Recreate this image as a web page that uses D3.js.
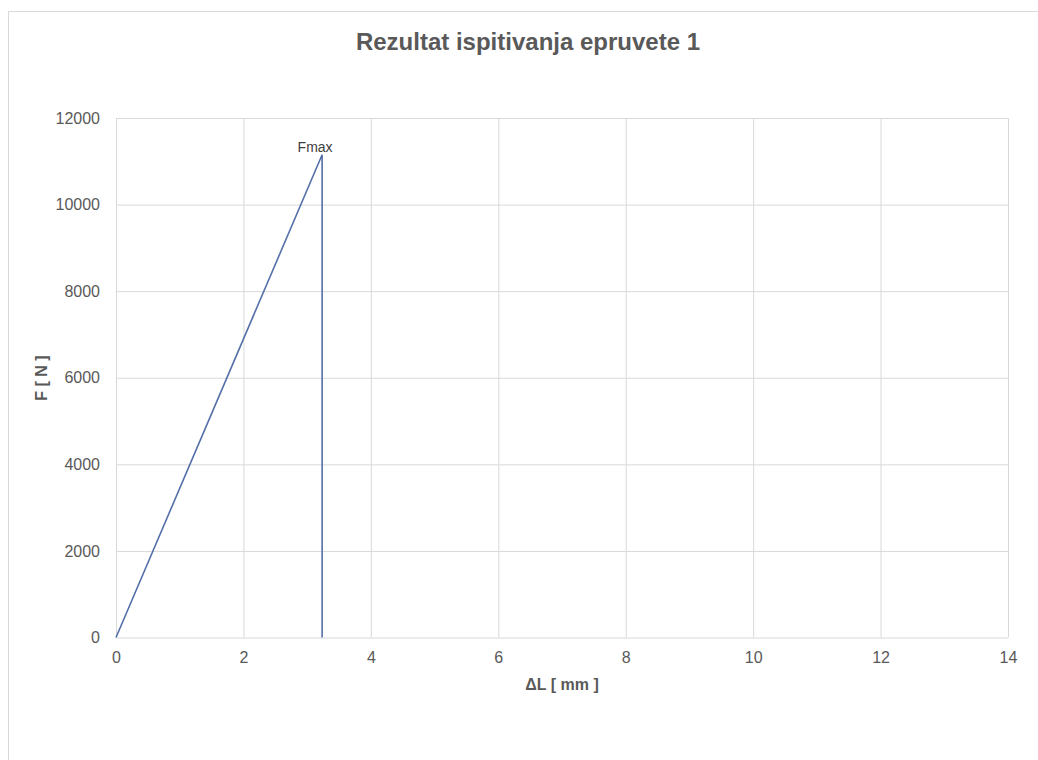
<!DOCTYPE html>
<html><head><meta charset="utf-8">
<script src="https://cdn.jsdelivr.net/npm/d3@7/dist/d3.min.js"></script>
<style>body{margin:0;background:#fff}svg{display:block}</style>
</head><body>
<svg id="c" width="1038" height="760"></svg>
<script>
const chartTitle = "Rezultat ispitivanja epruvete 1";
const xTitle = "ΔL [ mm ]";
const yTitle = "F [ N ]";
const deltaL = [0, 3.235, 3.235];
const force  = [0, 11150, 0];
const xTicks = [0, 2, 4, 6, 8, 10, 12, 14];
const yTicks = [0, 2000, 4000, 6000, 8000, 10000, 12000];
const peakLabel = "Fmax";
const peakIndex = 1;

const svg = d3.select("#c");
const font = "'Liberation Sans', Arial, sans-serif";
const m = {l:116, r:1008, t:118, b:637.5};
const x = d3.scaleLinear().domain([0,14]).range([m.l, m.r]);
const y = d3.scaleLinear().domain([0,12000]).range([m.b, m.t]);

svg.append("rect").attr("x",8.5).attr("y",11.5).attr("width",1040).attr("height",800)
  .attr("fill","#fff").attr("stroke","#d9d9d9");

svg.append("text").attr("x",528).attr("y",50).attr("text-anchor","middle")
  .attr("font-family",font).attr("font-weight","bold").attr("font-size",24)
  .attr("fill","#595959").text(chartTitle);

const gx = svg.append("g").attr("transform",`translate(0,${m.b})`)
  .call(d3.axisBottom(x).tickValues(xTicks).tickSize(-(m.b-m.t)).tickPadding(14).tickFormat(d3.format("d")));
gx.select(".domain").remove();
gx.selectAll(".tick line").attr("stroke","#d9d9d9");
gx.selectAll(".tick text").attr("font-family",font).attr("font-size",16).attr("fill","#595959");

const gy = svg.append("g").attr("transform",`translate(${m.l},0)`)
  .call(d3.axisLeft(y).tickValues(yTicks).tickSize(-(m.r-m.l)).tickPadding(16).tickFormat(d3.format("d")));
gy.select(".domain").remove();
gy.selectAll(".tick line").attr("stroke","#d9d9d9");
gy.selectAll(".tick text").attr("font-family",font).attr("font-size",16).attr("fill","#595959");

const pts = deltaL.map((d,i)=>[d, force[i]]);
svg.append("path").datum(pts)
  .attr("d", d3.line().x(d=>x(d[0])).y(d=>y(d[1])))
  .attr("fill","none").attr("stroke","#5470a8").attr("stroke-width",1.6);

svg.append("text").attr("x",x(deltaL[peakIndex])-7).attr("y",y(force[peakIndex])-3)
  .attr("text-anchor","middle").attr("font-family",font).attr("font-size",14)
  .attr("fill","#404040").text(peakLabel);

svg.append("text").attr("x",(m.l+m.r)/2).attr("y",690).attr("text-anchor","middle")
  .attr("font-family",font).attr("font-weight","bold").attr("font-size",16)
  .attr("fill","#595959").text(xTitle);

svg.append("text").attr("transform",`translate(47,378) rotate(-90)`).attr("text-anchor","middle")
  .attr("font-family",font).attr("font-weight","bold").attr("font-size",16)
  .attr("fill","#595959").text(yTitle);
</script>
</body></html>
